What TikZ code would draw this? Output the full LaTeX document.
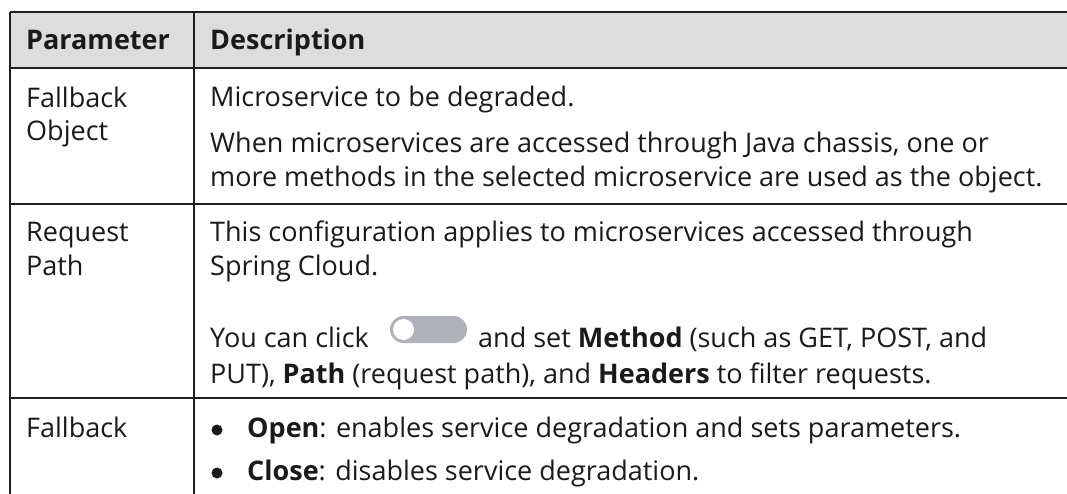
\documentclass[tikz,border=0pt]{standalone}
\usepackage{fontspec}
\setmainfont{Open Sans}
\definecolor{hdrfill}{HTML}{DDDDDD}
\definecolor{rulecol}{HTML}{1E1E1E}
\definecolor{txtcol}{HTML}{1A1A1A}
\definecolor{trackcol}{HTML}{AEB1B8}
\begin{document}
\begin{tikzpicture}[x=1pt,y=-1pt,
  txt/.style={anchor=base west, inner sep=0pt, font=\fontsize{27}{33}\selectfont, text=txtcol},
  rulestyle/.style={line width=2pt, draw=rulecol},
  bulletdot/.style={circle, fill=txtcol, inner sep=0pt, minimum size=11pt}]
\useasboundingbox (0,0) rectangle (1067,494);
% header fill
\fill[hdrfill] (10,12) rectangle (1067,68);
% coordinates of the grid
\coordinate (tl) at (10,12);
\coordinate (tr) at (1067,12);
\coordinate (h1l) at (10,68);
\coordinate (h1r) at (1067,68);
\coordinate (h2l) at (10,204);
\coordinate (h2r) at (1067,204);
\coordinate (h3l) at (10,398);
\coordinate (h3r) at (1067,398);
\coordinate (bl) at (10,494);
\coordinate (ct) at (194,12);
\coordinate (cb) at (194,494);
\draw[rulestyle] (tl) -- (tr);
\draw[rulestyle] (h1l) -- (h1r);
\draw[rulestyle] (h2l) -- (h2r);
\draw[rulestyle] (h3l) -- (h3r);
\draw[rulestyle] (tl) -- (bl);
\draw[rulestyle] (ct) -- (cb);
% header
\node[txt, font=\fontsize{27}{33}\selectfont\bfseries] (hp) at (26,50) {Parameter};
\node[txt, font=\fontsize{27}{33}\selectfont\bfseries] (hd) at (210,50) {Description};
% row 1
\node[txt] (r1a) at (26,108) {Fallback};
\node[txt] (r1b) at (26,141) {Object};
\node[txt] (d1a) at (210,107) {Microservice to be degraded.};
\node[txt] (d1b) at (210,153) {When microservices are accessed through Java chassis, one or};
\node[txt] (d1c) at (210,187) {more methods in the selected microservice are used as the object.};
% row 2
\node[txt] (r2a) at (26,242) {Request};
\node[txt] (r2b) at (26,275) {Path};
\node[txt] (d2a) at (210,242) {This configuration applies to microservices accessed through};
\node[txt] (d2b) at (210,275) {Spring Cloud.};
\node[txt] (d2c) at (210,347) {You can click};
% toggle
\fill[trackcol, rounded corners=13.5pt] (390,316) rectangle (467,343);
\node[circle, fill=white, inner sep=0pt, minimum size=21pt] (knob) at (403.5,329.5) {};
\node[txt] (d2d) at (478,347) {and set \textbf{Method} (such as GET, POST, and};
\node[txt] (d2e) at (210,383) {PUT), \textbf{Path} (request path), and \textbf{Headers} to filter requests.};
% row 3
\node[txt] (r3a) at (26,437) {Fallback};
\node[bulletdot] (b1) at (217,430) {};
\node[txt] (d3a) at (247,437) {\textbf{Open}: enables service degradation and sets parameters.};
\node[bulletdot] (b2) at (217,473) {};
\node[txt] (d3b) at (247,480) {\textbf{Close}: disables service degradation.};
\end{tikzpicture}
\end{document}
